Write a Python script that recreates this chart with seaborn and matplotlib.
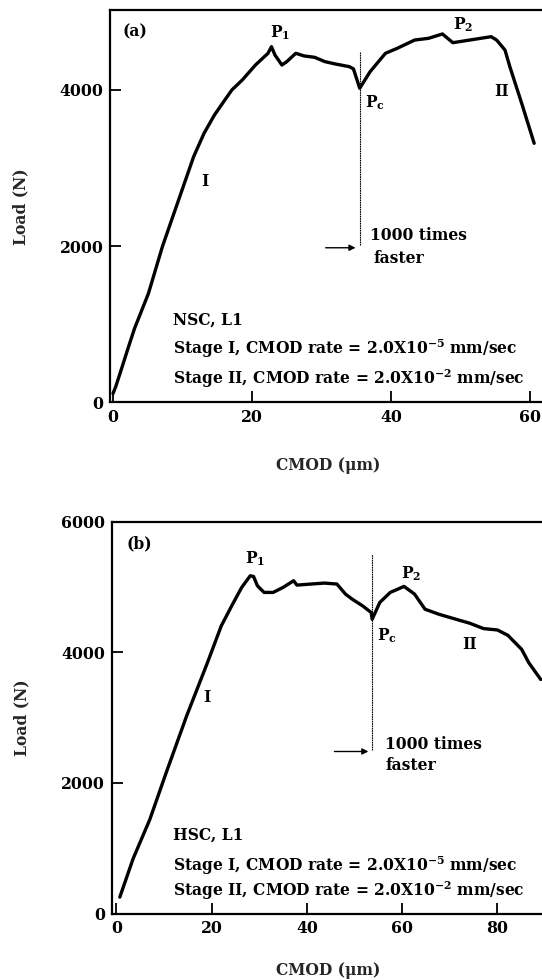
import numpy as np
import pandas as pd
import matplotlib
matplotlib.use("Agg")
import matplotlib.pyplot as plt
import seaborn as sns

# ---- data (a) NSC ----
cmod_a = [0.0, 0.4, 1.2, 2.2, 3.1, 5.1, 7.1, 9.6, 11.6, 13.1, 14.6, 16.0, 17.1, 18.6, 20.5, 22.3,
          22.8, 23.3, 24.3, 25.0, 26.3, 27.5, 29.0, 30.5, 32.0, 34.0, 34.6, 35.5,
          37.0, 39.2, 40.9, 43.4, 45.4, 47.4, 48.9, 54.4, 55.2, 56.4, 57.1, 58.8, 60.6]
load_a = [110, 200, 420, 700, 944, 1393, 1991, 2632, 3145, 3445, 3680, 3860, 4000, 4128, 4320, 4470,
          4555, 4449, 4320, 4363, 4470, 4436, 4419, 4363, 4333, 4299, 4270, 4022,
          4235, 4470, 4534, 4640, 4662, 4718, 4606, 4683, 4640, 4512, 4299, 3830, 3317]

# ---- data (b) HSC ----
cmod_b = [0.7, 3.5, 7.0, 10.4, 14.7, 19.1, 22.0, 24.2, 26.3, 28.1, 28.8, 29.6, 31.0, 32.9,
          35.0, 37.2, 37.9, 40.8, 43.7, 46.3, 48.1, 49.5, 51.7, 53.5, 53.7,
          55.3, 57.5, 60.4, 62.6, 64.8, 67.7, 71.3, 74.2, 77.1, 80.0, 82.2, 85.1, 86.6, 89.1]
load_b = [251, 840, 1440, 2148, 3019, 3840, 4403, 4711, 4994, 5172, 5160, 5019, 4917, 4917,
          4994, 5096, 5029, 5045, 5060, 5045, 4891, 4814, 4711, 4609, 4506,
          4763, 4917, 5009, 4891, 4660, 4583, 4506, 4445, 4363, 4342, 4260, 4045, 3840, 3584]

xticks_a = [0, 20, 40, 60]
yticks_a = [0, 2000, 4000]
xticks_b = [0, 20, 40, 60, 80]
yticks_b = [0, 2000, 4000, 6000]

sns.set_theme(style="ticks")
plt.rcParams["font.family"] = ["DejaVu Serif"]
plt.rcParams["font.weight"] = "bold"
plt.rcParams["mathtext.fontset"] = "dejavuserif"
plt.rcParams["mathtext.default"] = "bf"

fig = plt.figure(figsize=(5.42, 9.8), dpi=100)
W, H = 542.0, 980.0

ax1 = fig.add_axes([110.5 / W, (H - 402.5) / H, (545 - 110.5) / W, 392.5 / H])
ax2 = fig.add_axes([112.0 / W, (H - 913.5) / H, (545 - 112.0) / W, 391.8 / H])

dfa = pd.DataFrame({"CMOD": cmod_a, "Load": load_a})
dfb = pd.DataFrame({"CMOD": cmod_b, "Load": load_b})
sns.lineplot(data=dfa, x="CMOD", y="Load", ax=ax1, sort=False, estimator=None,
             color="black", lw=2.4)
sns.lineplot(data=dfb, x="CMOD", y="Load", ax=ax2, sort=False, estimator=None,
             color="black", lw=2.4)

fs_tick = 11.3
fs_txt = 11.2
for ax, xt, yt in [(ax1, xticks_a, yticks_a), (ax2, xticks_b, yticks_b)]:
    ax.set_xticks(xt)
    ax.set_yticks(yt)
    ax.tick_params(direction="in", length=8, width=1.3, labelsize=fs_tick, pad=5,
                   colors="black")
    for lab in ax.get_xticklabels() + ax.get_yticklabels():
        lab.set_fontweight("bold")
    for s in ["left", "bottom", "top"]:
        ax.spines[s].set_linewidth(1.6)
        ax.spines[s].set_color("black")
    ax.spines["right"].set_visible(False)
    ax.set_ylabel("Load (N)", fontsize=fs_txt, fontweight="bold", labelpad=22)

ax1.set_xlabel("CMOD (\u03bcm)", fontsize=fs_txt, fontweight="bold", labelpad=22)
ax2.set_xlabel("CMOD (\u03bcm)", fontsize=fs_txt, fontweight="bold", labelpad=18)

ax1.set_xlim(-0.36, 62.16)
ax1.set_ylim(-5, 5025)
ax2.set_xlim(-0.94, 90.0)
ax2.set_ylim(0, 6000)

# vertical lines and arrows
ax1.plot([35.6, 35.6], [2013, 4491], color="black", lw=0.8, ls=(0, (1.5, 0.6)))
ax2.plot([53.75, 53.75], [2507, 5506], color="black", lw=0.8, ls=(0, (1.5, 0.6)))
ax1.annotate("", xy=(35.3, 1978), xytext=(30.2, 1978),
             arrowprops=dict(arrowstyle="-|>", color="black", lw=1.0, mutation_scale=9))
ax2.annotate("", xy=(53.5, 2481), xytext=(45.2, 2481),
             arrowprops=dict(arrowstyle="-|>", color="black", lw=1.0, mutation_scale=9))

# annotations (a)
kw = dict(fontsize=fs_txt, fontweight="bold", color="black")
ax1.text(3.1, 4747, "(a)", ha="center", va="center", **kw)
ax1.text(24.0, 4730, "P$_1$", ha="center", va="center", **kw)
ax1.text(50.4, 4833, "P$_2$", ha="center", va="center", **kw)
ax1.text(37.7, 3833, "P$_c$", ha="center", va="center", **kw)
ax1.text(55.9, 3978, "II", ha="center", va="center", **kw)
ax1.text(13.2, 2824, "I", ha="center", va="center", **kw)
ax1.text(37.0, 2141, "1000 times", ha="left", va="center", **kw)
ax1.text(37.5, 1846, "faster", ha="left", va="center", **kw)
ax1.text(8.6, 1051, "NSC, L1", ha="left", va="center", **kw)
ax1.text(8.6, 679, "Stage I, CMOD rate = 2.0X10$^{-5}$ mm/sec", ha="left", va="center", **kw)
ax1.text(8.6, 304, "Stage II, CMOD rate = 2.0X10$^{-2}$ mm/sec", ha="left", va="center", **kw)

# annotations (b)
ax2.text(4.7, 5660, "(b)", ha="center", va="center", **kw)
ax2.text(29.2, 5430, "P$_1$", ha="center", va="center", **kw)
ax2.text(61.9, 5200, "P$_2$", ha="center", va="center", **kw)
ax2.text(56.8, 4250, "P$_c$", ha="center", va="center", **kw)
ax2.text(74.2, 4122, "II", ha="center", va="center", **kw)
ax2.text(19.1, 3302, "I", ha="center", va="center", **kw)
ax2.text(56.4, 2584, "1000 times", ha="left", va="center", **kw)
ax2.text(56.4, 2261, "faster", ha="left", va="center", **kw)
ax2.text(11.9, 1200, "HSC, L1", ha="left", va="center", **kw)
ax2.text(11.9, 738, "Stage I, CMOD rate = 2.0X10$^{-5}$ mm/sec", ha="left", va="center", **kw)
ax2.text(11.9, 343, "Stage II, CMOD rate = 2.0X10$^{-2}$ mm/sec", ha="left", va="center", **kw)

fig.savefig("out.png", dpi=100)
